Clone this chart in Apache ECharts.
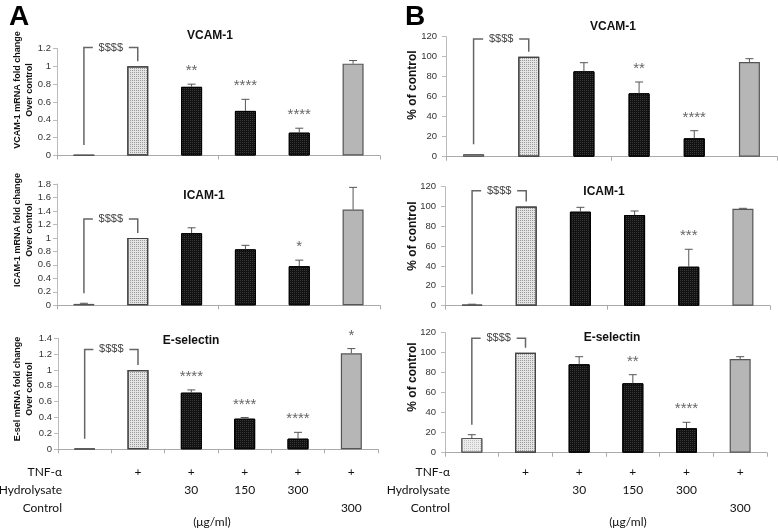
<!DOCTYPE html>
<html>
<head>
<meta charset="utf-8">
<script src="https://cdn.jsdelivr.net/npm/echarts@6/dist/echarts.min.js"></script>
<style>html,body{margin:0;padding:0;background:#fff}#c{width:778px;height:528px}</style>
</head>
<body>
<div id="c"></div>
<script>
// ---- categories ----
const categories = ['Untreated', 'TNF-α', 'TNF-α + H30', 'TNF-α + H150', 'TNF-α + H300', 'TNF-α + Ctrl300'];

// ---- table rows under the x axes ----
const tnfRow = ['', '+', '+', '+', '+', '+'];
const hydroRow = ['', '', '30', '150', '300', ''];
const controlRow = ['', '', '', '', '', '300'];
const rowNames = ['TNF-α', 'Hydrolysate', 'Control'];
const unitText = '(μg/ml)';

// ---- Panel A: mRNA fold change over control ----
const aVcamValues = [0.005, 1.0, 0.77, 0.50, 0.256, 1.03];
const aVcamErrors = [0, 0, 0.03, 0.13, 0.05, 0.035];
const aVcamStars = ['', '', '**', '****', '****', ''];
const aVcamBracketTop = 1.21;

const aIcamValues = [0.02, 1.0, 1.07, 0.83, 0.58, 1.42];
const aIcamErrors = [0.01, 0, 0.08, 0.06, 0.09, 0.33];
const aIcamStars = ['', '', '', '', '*', ''];
const aIcamBracketTop = 1.28;

const aEselValues = [0.008, 1.0, 0.714, 0.386, 0.134, 1.21];
const aEselErrors = [0, 0, 0.035, 0.015, 0.08, 0.06];
const aEselStars = ['', '', '****', '****', '****', '*'];
const aEselBracketTop = 1.26;

// ---- Panel B: % of control ----
const bVcamValues = [2.4, 100, 85.4, 63.4, 18.4, 94.7];
const bVcamErrors = [0, 0, 8.6, 11.3, 7.6, 3.3];
const bVcamStars = ['', '', '', '**', '****', ''];
const bVcamBracketTop = 117.7;

const bIcamValues = [1, 100, 94.8, 91.4, 39.3, 97.8];
const bIcamErrors = [0.5, 0, 4.4, 4.1, 17.6, 0.4];
const bIcamStars = ['', '', '', '', '***', ''];
const bIcamBracketTop = 116;

const bEselValues = [14.7, 100, 88.4, 69.4, 24.4, 93.7];
const bEselErrors = [3.3, 0, 7.6, 8.6, 6.0, 2.3];
const bEselStars = ['', '', '', '**', '****', ''];
const bEselBracketTop = 114.4;

const bracketText = '$$$$';

// ---- axis ranges ----
const aVcamMax = 1.2, aIcamMax = 1.8, aEselMax = 1.4, bMax = 120;
const aInterval = 0.2, bInterval = 20;

// ---- titles ----
const panelTitles = ['VCAM-1', 'ICAM-1', 'E-selectin'];
const aYNames = ['VCAM-1 mRNA fold change\nOver control', 'ICAM-1 mRNA fold change\nOver control', 'E-sel mRNA fold change\nOver control'];
const bYName = '% of control';

// ================= layout / styles =================
const FONT = '"Liberation Sans", Arial, sans-serif';
const TFONT = 'Lato, "Open Sans", sans-serif';
const panels = [
  {values: aVcamValues, errors: aVcamErrors, stars: aVcamStars, bracketTop: aVcamBracketTop, max: aVcamMax, interval: aInterval,
   grid: {left: 57, top: 48.5, width: 323, height: 107}, title: [210, 36], yname: [24, 90], ynameText: aYNames[0], titleText: panelTitles[0], labelMargin: 6, table: false},
  {values: aIcamValues, errors: aIcamErrors, stars: aIcamStars, bracketTop: aIcamBracketTop, max: aIcamMax, interval: aInterval,
   grid: {left: 57, top: 184, width: 323, height: 121.3}, title: [204, 196], yname: [24, 230], ynameText: aYNames[1], titleText: panelTitles[1], labelMargin: 6, table: false},
  {values: aEselValues, errors: aEselErrors, stars: aEselStars, bracketTop: aEselBracketTop, max: aEselMax, interval: aInterval,
   grid: {left: 58, top: 338.3, width: 320, height: 111}, title: [191, 341], yname: [24, 389], ynameText: aYNames[2], titleText: panelTitles[2], labelMargin: 6, table: true, tableMargin: 14},
  {values: bVcamValues, errors: bVcamErrors, stars: bVcamStars, bracketTop: bVcamBracketTop, max: bMax, interval: bInterval,
   grid: {left: 446, top: 36.7, width: 331, height: 120}, title: [613, 27], yname: [413, 85], ynameText: bYName, titleText: panelTitles[0], labelMargin: 9, table: false, b: true},
  {values: bIcamValues, errors: bIcamErrors, stars: bIcamStars, bracketTop: bIcamBracketTop, max: bMax, interval: bInterval,
   grid: {left: 445, top: 186.7, width: 325, height: 119}, title: [604, 192], yname: [413, 236], ynameText: bYName, titleText: panelTitles[1], labelMargin: 9, table: false, b: true},
  {values: bEselValues, errors: bEselErrors, stars: bEselStars, bracketTop: bEselBracketTop, max: bMax, interval: bInterval,
   grid: {left: 445, top: 332.7, width: 322, height: 120}, title: [612, 338], yname: [413, 377], ynameText: bYName, titleText: panelTitles[2], labelMargin: 9, table: true, tableMargin: 10, b: true}
];

const dotDecal = (c) => ({symbol: 'rect', symbolSize: 1, dashArrayX: [1, 1], dashArrayY: [1, 1], color: c, rotation: 0});
const barStyles = [
  {color: '#ececec', borderColor: '#555', borderWidth: 1, decal: dotDecal('rgba(150,150,150,0.5)')},
  {color: '#e4e4e4', borderColor: '#444', borderWidth: 1.2, decal: dotDecal('#9a9a9a')},
  {color: '#121212', borderColor: '#000', borderWidth: 1, decal: dotDecal('#383838')},
  {color: '#121212', borderColor: '#000', borderWidth: 1, decal: dotDecal('#383838')},
  {color: '#121212', borderColor: '#000', borderWidth: 1, decal: dotDecal('#383838')},
  {color: '#b6b6b6', borderColor: '#555', borderWidth: 1.2}
];

function errRender(stars) {
  return function (params, api) {
    const i = api.value(0), v = api.value(1), e = api.value(2);
    const base = api.coord([i, v]);
    const top = api.coord([i, v + e]);
    const children = [];
    if (e > 0) {
      children.push({type: 'line', shape: {x1: base[0], y1: base[1], x2: top[0], y2: top[1]}, style: {stroke: '#555', lineWidth: 1}});
      children.push({type: 'line', shape: {x1: top[0] - 4, y1: top[1], x2: top[0] + 4, y2: top[1]}, style: {stroke: '#555', lineWidth: 1}});
    }
    const s = stars[params.dataIndex];
    if (s) {
      children.push({type: 'text', x: top[0], y: top[1] - 13, style: {text: s, align: 'center', verticalAlign: 'middle', fill: '#666', font: '15px ' + FONT}});
    }
    return {type: 'group', children};
  };
}

function bracketRender(params, api) {
  const a = api.coord([0, api.value(1)]);
  const t = api.coord([0, api.value(2)]);
  const b = api.coord([1, api.value(3)]);
  const y0 = a[1] - 10, yt = t[1], y1 = b[1] - 5;
  const xm = (a[0] + b[0]) / 2;
  const st = {stroke: '#666', lineWidth: 1.5, fill: null};
  return {type: 'group', children: [
    {type: 'polyline', shape: {points: [[a[0], y0], [a[0], yt], [xm - 18, yt]]}, style: st},
    {type: 'polyline', shape: {points: [[xm + 18, yt], [b[0], yt], [b[0], y1]]}, style: st},
    {type: 'text', x: xm, y: yt, style: {text: bracketText, align: 'center', verticalAlign: 'middle', fill: '#444', font: '11px ' + FONT}}
  ]};
}

const grid = [], xAxis = [], yAxis = [], series = [], graphic = [];
panels.forEach((p, k) => {
  grid.push(p.grid);
  xAxis.push({
    type: 'category', gridIndex: k, data: categories,
    axisLine: {lineStyle: {color: '#aaa', width: 1}},
    axisTick: {show: true, length: 4, lineStyle: {color: '#aaa'}},
    axisLabel: p.table ? {
      show: true, interval: 0, margin: p.tableMargin, lineHeight: 18, fontSize: 12, fontFamily: TFONT,
      color: '#111', verticalAlign: 'top',
      formatter: (val, idx) => (tnfRow[idx] || ' ') + '\n' + (hydroRow[idx] || ' ') + '\n' + (controlRow[idx] || ' ')
    } : {show: false},
    splitLine: {show: false}
  });
  yAxis.push({
    type: 'value', gridIndex: k, min: 0, max: p.max, interval: p.interval,
    axisLine: {show: true, lineStyle: {color: '#bbb'}},
    axisTick: {show: true, length: 4, lineStyle: {color: '#bbb'}},
    axisLabel: {fontSize: 9.5, color: '#333', margin: p.labelMargin, fontFamily: FONT},
    splitLine: {show: false}
  });
  series.push({
    type: 'bar', xAxisIndex: k, yAxisIndex: k, barWidth: 21,
    data: p.values.map((v, i) => ({value: v, itemStyle: barStyles[i]})),
    silent: true, animation: false
  });
  series.push({
    type: 'custom', xAxisIndex: k, yAxisIndex: k, renderItem: errRender(p.stars),
    data: p.values.map((v, i) => [i, v, p.errors[i]]), silent: true, animation: false, z: 5
  });
  series.push({
    type: 'custom', xAxisIndex: k, yAxisIndex: k, renderItem: bracketRender,
    data: [[0, p.values[0] + p.errors[0], p.bracketTop, p.values[1]]], silent: true, animation: false, z: 5
  });
  graphic.push({type: 'text', x: p.title[0], y: p.title[1], style: {text: p.titleText, align: 'center', verticalAlign: 'middle', fill: '#111', font: 'bold 12px ' + FONT}});
  graphic.push({type: 'text', x: p.yname[0], y: p.yname[1], rotation: Math.PI / 2,
    style: {text: p.ynameText, align: 'center', verticalAlign: 'middle', fill: '#111', lineHeight: 12,
      font: 'bold ' + (p.b ? 12 : 9) + 'px ' + FONT}});
  if (p.table) {
    const right = p.b ? 450 : 62;
    const y0 = p.grid.top + p.grid.height + p.tableMargin;
    rowNames.forEach((n, r) => {
      graphic.push({type: 'text', x: right, y: y0 + r * 18 + 9, style: {text: n, align: 'right', verticalAlign: 'middle', fill: '#111', font: '12px ' + TFONT}});
    });
    graphic.push({type: 'text', x: p.b ? 628 : 212, y: 522, style: {text: unitText, align: 'center', verticalAlign: 'middle', fill: '#111', font: '12px ' + TFONT}});
  }
});
graphic.push({type: 'text', x: 9, y: 17, style: {text: 'A', align: 'left', verticalAlign: 'middle', fill: '#000', font: 'bold 28px ' + FONT}});
graphic.push({type: 'text', x: 405, y: 17, style: {text: 'B', align: 'left', verticalAlign: 'middle', fill: '#000', font: 'bold 28px ' + FONT}});

const chart = echarts.init(document.getElementById('c'), null, {renderer: 'canvas'});
chart.setOption({animation: false, backgroundColor: '#fff', grid, xAxis, yAxis, series, graphic});
</script>
</body>
</html>
